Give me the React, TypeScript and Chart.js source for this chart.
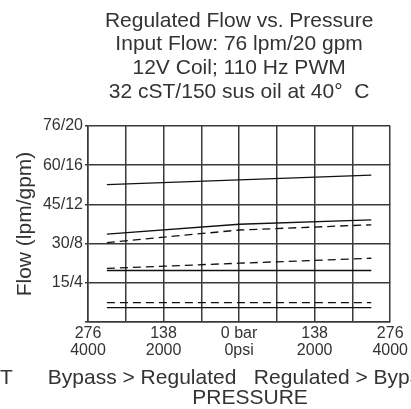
import React, { useEffect, useRef } from 'react';
import { Chart, registerables } from 'chart.js';

Chart.register(...registerables);

const TITLE_LINES = [
  'Regulated Flow vs. Pressure',
  'Input Flow: 76 lpm/20 gpm',
  '12V Coil; 110 Hz PWM',
  '32 cST/150 sus oil at 40°  C',
];
const Y_TITLE = 'Flow (lpm/gpm)';
const X_TITLE_LINES = ['PORT      Bypass > Regulated   Regulated > Bypass      PORT', 'PRESSURE'];

const X_TICK_VALUES = [-4, -2, 0, 2, 4];
const X_TICK_BAR = ['276', '138', '0 bar', '138', '276'];
const X_TICK_PSI = ['4000', '2000', '0psi', '2000', '4000'];

const Y_TICK_VALUES = [15, 30, 45, 60, 75];
const Y_TICK_LABELS = ['15/4', '30/8', '45/12', '60/16', '76/20'];

const X_POINTS = [-3.5, 0, 3.5];
const SOLID_1 = [52.6, 54.4, 56.2];
const SOLID_2 = [33.6, 37.4, 39.1];
const DASHED_1 = [30.4, 35.2, 37.2];
const DASHED_2 = [20.5, 22.5, 24.4];
const SOLID_3 = [19.7, 19.7, 19.7];
const DASHED_3 = [7.4, 7.4, 7.4];
const SOLID_4 = [5.5, 5.5, 5.5];

const FONT = '"Liberation Sans", Arial, Helvetica, sans-serif';
const TEXT_COLOR = '#333333';
const GRID_COLOR = '#3a3a3a';
const LINE_COLOR = '#111111';

const SERIES: { data: number[]; dashed: boolean }[] = [
  { data: SOLID_1, dashed: false },
  { data: SOLID_2, dashed: false },
  { data: DASHED_1, dashed: true },
  { data: DASHED_2, dashed: true },
  { data: SOLID_3, dashed: false },
  { data: DASHED_3, dashed: true },
  { data: SOLID_4, dashed: false },
];

const xTitlePlugin = {
  id: 'xTitleText',
  afterDraw(chart: any) {
    const { ctx, chartArea } = chart;
    const cx = (chartArea.left + chartArea.right) / 2;
    ctx.save();
    ctx.font = `21px ${FONT}`;
    ctx.fillStyle = TEXT_COLOR;
    ctx.textAlign = 'center';
    ctx.textBaseline = 'middle';
    ctx.fillText(X_TITLE_LINES[0], cx + 6, chart.height - 31);
    ctx.fillText(X_TITLE_LINES[1], cx + 11, chart.height - 11);
    ctx.restore();
  },
};

export default function App() {
  const ref = useRef<HTMLCanvasElement | null>(null);
  useEffect(() => {
    if (!ref.current) return;
    const chart = new Chart(ref.current, {
      type: 'line',
      data: {
        datasets: SERIES.map((s) => ({
          data: X_POINTS.map((x, i) => ({ x, y: s.data[i] })),
          borderColor: LINE_COLOR,
          borderWidth: 1.3,
          borderDash: s.dashed ? [8, 5] : [],
          pointRadius: 0,
          fill: false,
          tension: 0,
        })),
      },
      options: {
        responsive: false,
        animation: false,
        layout: { padding: { left: 0, right: 19, top: 0, bottom: 0 } },
        plugins: {
          legend: { display: false },
          tooltip: { enabled: false },
          title: {
            display: true,
            fullSize: false,
            text: TITLE_LINES,
            color: TEXT_COLOR,
            font: { family: FONT, size: 21, weight: 'normal', lineHeight: 1.124 },
            padding: { top: 9.2, bottom: 22.4 },
          },
        },
        scales: {
          x: {
            type: 'linear',
            min: -4,
            max: 4,
            afterFit: (scale: any) => {
              scale.height = 87;
            },
            ticks: {
              stepSize: 1,
              autoSkip: false,
              maxRotation: 0,
              color: TEXT_COLOR,
              padding: 3,
              font: { family: FONT, size: 16, lineHeight: 1.06 },
              callback: (value: any) => {
                const i = X_TICK_VALUES.indexOf(Number(value));
                return i >= 0 ? [X_TICK_BAR[i], X_TICK_PSI[i]] : '';
              },
            },
            grid: { color: GRID_COLOR, lineWidth: 1.5, drawTicks: false },
            border: { color: GRID_COLOR, width: 1.5 },
          },
          y: {
            type: 'linear',
            min: 0,
            max: 75,
            afterFit: (scale: any) => {
              scale.width = 88;
            },
            ticks: {
              stepSize: 15,
              color: TEXT_COLOR,
              padding: 2,
              font: { family: FONT, size: 16 },
              callback: (value: any) => {
                const i = Y_TICK_VALUES.indexOf(Number(value));
                return i >= 0 ? Y_TICK_LABELS[i] : '';
              },
            },
            grid: { color: GRID_COLOR, lineWidth: 1.5, tickLength: 3 },
            border: { color: GRID_COLOR, width: 1.5 },
            title: {
              display: true,
              text: Y_TITLE,
              color: TEXT_COLOR,
              font: { family: FONT, size: 21, lineHeight: 1.2 },
              padding: { top: 12.4, bottom: 0 },
            },
          },
        },
      },
      plugins: [xTitlePlugin],
    });
    return () => chart.destroy();
  }, []);
  return (
    <div style={{ position: 'absolute', left: 0, top: 0, width: 411, height: 409 }}>
      <canvas ref={ref} width={411} height={409} />
    </div>
  );
}
